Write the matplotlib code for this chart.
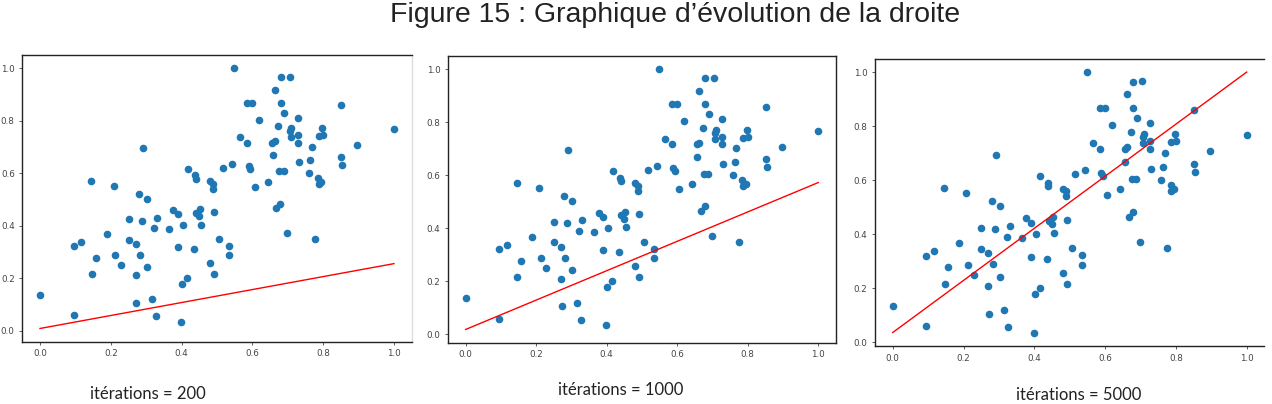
import numpy as np
import matplotlib.pyplot as plt

# points (same data in the three panels)
x = [0.0, 0.095, 0.095, 0.116, 0.145, 0.147, 0.157, 0.188, 0.208, 0.213,
     0.229, 0.250, 0.250, 0.270, 0.270, 0.272, 0.280, 0.283, 0.288, 0.291,
     0.302, 0.303, 0.315, 0.322, 0.327, 0.331, 0.365, 0.377, 0.390, 0.390,
     0.399, 0.401, 0.404, 0.416, 0.417, 0.435, 0.438, 0.440, 0.441, 0.449,
     0.453, 0.455, 0.480, 0.480, 0.490, 0.490, 0.491, 0.492, 0.507, 0.516,
     0.535, 0.535, 0.543, 0.548, 0.566, 0.586, 0.586, 0.589, 0.593, 0.600,
     0.606, 0.619, 0.643, 0.655, 0.657, 0.663, 0.663, 0.672, 0.668, 0.679,
     0.676, 0.680, 0.680, 0.688, 0.689, 0.698, 0.705, 0.707, 0.710, 0.708,
     0.728, 0.728, 0.728, 0.731, 0.759, 0.764, 0.768, 0.776, 0.785, 0.787,
     0.787, 0.795, 0.797, 0.800, 0.851, 0.851, 0.854, 0.896, 1.0]
y = [0.135, 0.059, 0.321, 0.336, 0.571, 0.216, 0.277, 0.367, 0.552, 0.286,
     0.248, 0.424, 0.346, 0.330, 0.210, 0.106, 0.521, 0.288, 0.418, 0.694,
     0.242, 0.503, 0.119, 0.390, 0.055, 0.430, 0.385, 0.459, 0.443, 0.317,
     0.033, 0.177, 0.401, 0.201, 0.615, 0.309, 0.591, 0.577, 0.449, 0.436,
     0.462, 0.403, 0.569, 0.258, 0.560, 0.540, 0.214, 0.452, 0.348, 0.621,
     0.323, 0.286, 0.636, 1.0, 0.738, 0.867, 0.716, 0.628, 0.616, 0.867,
     0.546, 0.803, 0.566, 0.716, 0.667, 0.917, 0.722, 0.779, 0.465, 0.483,
     0.606, 0.965, 0.867, 0.606, 0.830, 0.371, 0.967, 0.760, 0.770, 0.736,
     0.810, 0.745, 0.716, 0.642, 0.599, 0.648, 0.701, 0.347, 0.581, 0.741,
     0.558, 0.566, 0.770, 0.745, 0.858, 0.660, 0.629, 0.707, 0.766]

iterations = [200, 1000, 5000]
intercepts = [0.008, 0.018, 0.036]
slopes = [0.247, 0.554, 0.964]

title = "Figure 15 : Graphique d\u2019\u00e9volution de la droite"

W, H = 1272, 404
fig = plt.figure(figsize=(W/100, H/100), dpi=100)

# axes boxes in pixels: left, top, width, height
boxes = [(22.3, 55, 389.4, 286.5), (448, 56, 387.9, 286.5), (875, 59, 389.4, 287.4)]
captions_xy = [(148, 394), (621, 390), (1079, 395)]

x = np.array(x)
y = np.array(y)
for i, n in enumerate(iterations):
    l, t, w, h = boxes[i]
    ax = fig.add_axes([l/W, (H-t-h)/H, w/W, h/H])
    ax.scatter(x, y, s=20, color='#1f77b4', zorder=2)
    xs = np.array([x.min(), x.max()])
    ax.plot(xs, intercepts[i] + slopes[i]*xs, color='red', lw=1)
    ax.set_xticks([0.0, 0.2, 0.4, 0.6, 0.8, 1.0])
    ax.set_yticks([0.0, 0.2, 0.4, 0.6, 0.8, 1.0])
    ax.tick_params(labelsize=6.3, length=2.5, width=0.6, pad=3, colors='#444444')
    for sp in ax.spines.values():
        sp.set_linewidth(1.0)
        sp.set_color('#222222')
    if i == 0:
        ax.spines['right'].set_color('#dddddd')
    if i == 2:
        ax.spines['right'].set_visible(False)
    cx, cy = captions_xy[i]
    fig.text(cx/W, (H-cy)/H, 'it\u00e9rations = ' + str(n), ha='center', va='center',
             fontsize=12, family='Lato', color='#222222')

# title kept fully inside the picture (the reference crops its top edge)
fig.text(675/W, (H-22)/H, title, ha='center', va='baseline', fontsize=20.5,
         family='Liberation Sans', color='#222222')

fig.savefig('out.png', dpi=100)
